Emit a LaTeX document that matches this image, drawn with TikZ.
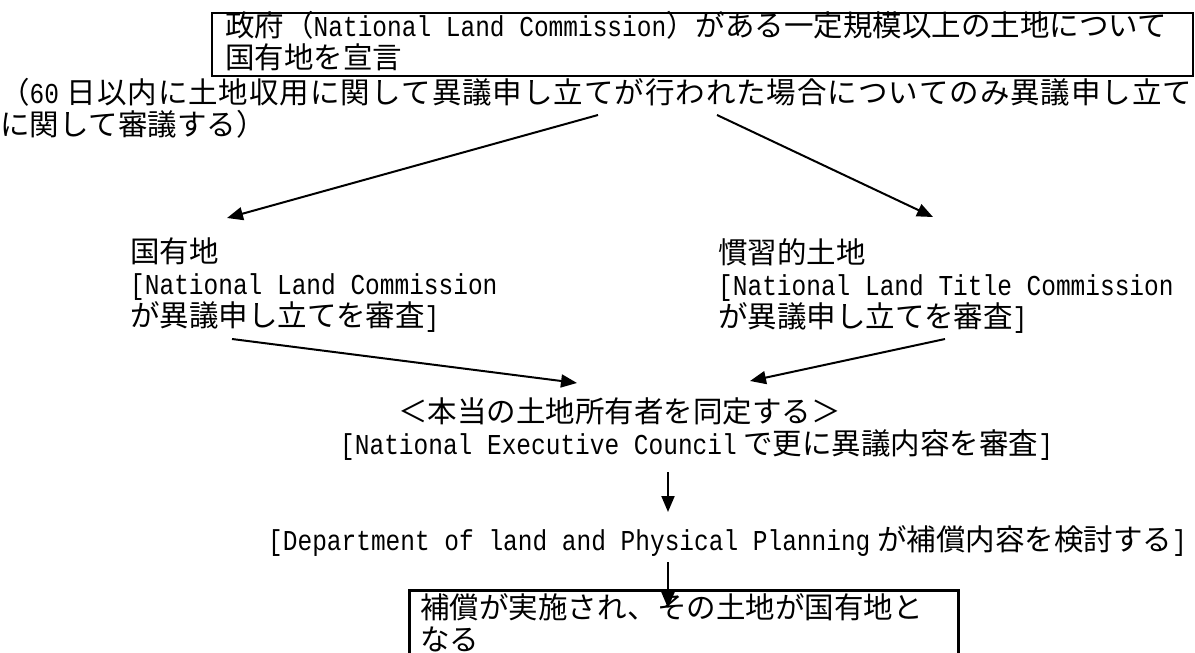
\documentclass[tikz,border=0pt]{standalone}
\usepackage{fontspec}
\setmainfont{Noto Sans CJK JP}
\newfontfamily\monofont[FakeStretch=0.85]{Liberation Mono}
\usetikzlibrary{arrows.meta}
\XeTeXlinebreaklocale "ja"
\XeTeXlinebreakskip=0pt plus 3pt
\newcommand{\en}[1]{{\monofont\fontsize{28.8pt}{32pt}\selectfont #1}}

\begin{document}
\begin{tikzpicture}[x=1pt,y=-1pt,
  txt/.style={anchor=north west,inner sep=0pt,align=left,
    font=\fontsize{29.5pt}{32pt}\selectfont},
  framed/.style={txt,draw,line width=2.7pt,inner xsep=11pt,inner ysep=3pt},
  arr/.style={line width=2pt,-{Triangle[length=16pt,width=13pt]}}]
\useasboundingbox (0,0) rectangle (1195,653);
\node[txt] (gov) at (225,11)
  {政府（\en{National Land Commission}）がある一定規模以上の土地について\\国有地を宣言};
\draw[line width=2.7pt] (212,13) rectangle (1193,76);
\node[txt,text width=1192pt,align=justify] (note) at (0,78)
  {（\en{60} 日以内に土地収用に関して異議申し立てが行われた場合についてのみ異議申し立て\linebreak に関して審議する）};
\node[txt] (kuni) at (130,238)
  {国有地\\\en{[National Land Commission}\\が異議申し立てを審査\en{]}};
\node[txt] (kanshu) at (718,238)
  {慣習的土地\\\en{[National Land Title Commission}\\が異議申し立てを審査\en{]}};
\node[txt] (owner) at (340,398)
  {\hspace*{58pt}＜本当の土地所有者を同定する＞\\\en{[National Executive Council} で更に異議内容を審査\en{]}};
\node[txt] (dept) at (268,525)
  {\en{[Department of land and Physical Planning} が補償内容を検討する\en{]}};
\node[framed,text width=527pt] (done) at (408,589)
  {\addfontfeature{LetterSpace=2.5}補償が実施され、その土地が国有地と\\なる};
\coordinate (a1) at (598,115);
\coordinate (a2) at (227,218);
\coordinate (b1) at (717,115);
\coordinate (b2) at (933,217);
\coordinate (c1) at (232,339);
\coordinate (c2) at (577,383);
\coordinate (d1) at (945,339);
\coordinate (d2) at (750,381);
\coordinate (e1) at (668,472);
\coordinate (e2) at (668,512);
\coordinate (f1) at (668,562);
\coordinate (f2) at (668,608);
\draw[arr] (a1) -- (a2);
\draw[arr] (b1) -- (b2);
\draw[arr] (c1) -- (c2);
\draw[arr] (d1) -- (d2);
\draw[arr] (e1) -- (e2);
\draw[arr] (f1) -- (f2);
\end{tikzpicture}
\end{document}
